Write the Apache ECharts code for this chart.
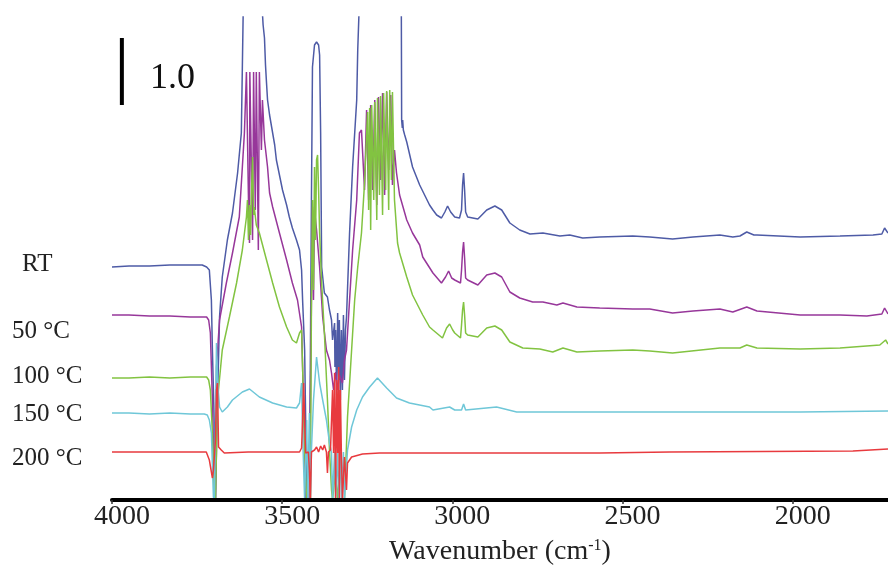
<!DOCTYPE html>
<html>
<head>
<meta charset="utf-8">
<script src="https://cdn.jsdelivr.net/npm/echarts@6/dist/echarts.min.js"></script>
<style>
html,body{margin:0;padding:0;background:#fff;}
#chart{width:888px;height:575px;}
</style>
</head>
<body>
<div id="chart"></div>
<script>
// ---- data: [wavenumber (cm-1), offset absorbance] ----
const seriesNames = ['RT', '50 °C', '100 °C', '150 °C', '200 °C'];
const tickLabels = [4000, 3500, 3000, 2500, 2000];

const rtData = [[4000,2.33],[3950,2.34],[3890,2.34],[3830,2.35],[3770,2.35],[3735,2.35],[3722,2.33],[3714,2.30],[3708,2.0],[3705,1.5],[3699,0.7],[3696,0],[3693,0],[3690,1.0],[3684,1.83],[3676,2.23],[3661,2.6],[3646,2.87],[3631,3.27],[3620,3.67],[3617,4.33],[3614,5.0],[3600,5.3],[3580,5.3],[3562,5.1],[3556,4.75],[3552,4.62],[3549,4.35],[3546,4.17],[3543,4.0],[3537,3.85],[3531,3.73],[3522,3.55],[3517,3.4],[3508,3.25],[3499,3.1],[3487,2.95],[3479,2.83],[3470,2.72],[3458,2.6],[3449,2.5],[3443,2.3],[3440,2.0],[3434,1.5],[3431,0.8],[3428,0],[3420,0],[3414,3.0],[3411,4.33],[3405,4.55],[3399,4.58],[3393,4.55],[3390,4.45],[3387,3.67],[3384,2.33],[3376,2.07],[3367,2.03],[3361,1.9],[3355,1.8],[3352,1.6],[3346,1.77],[3345,1.33],[3343,1.7],[3340,1.05],[3337,1.87],[3334,1.2],[3332,1.8],[3329,1.0],[3326,1.7],[3323,1.1],[3320,1.85],[3317,1.2],[3314,1.7],[3311,1.83],[3302,2.67],[3293,3.33],[3281,4.0],[3278,4.5],[3273,5.0],[3250,5.3],[3200,5.4],[3160,5.3],[3150,5.0],[3149,3.8],[3147,3.72],[3146,3.8],[3144,3.7],[3140,3.65],[3134,3.58],[3117,3.33],[3096,3.15],[3067,2.95],[3057,2.9],[3046,2.85],[3032,2.82],[3022,2.88],[3014,2.94],[3005,2.88],[2993,2.83],[2979,2.82],[2973,2.9],[2970,3.15],[2967,3.27],[2964,3.1],[2961,2.88],[2955,2.83],[2925,2.81],[2899,2.9],[2875,2.94],[2855,2.9],[2831,2.77],[2802,2.7],[2772,2.66],[2734,2.67],[2684,2.64],[2655,2.65],[2617,2.62],[2567,2.63],[2470,2.64],[2420,2.63],[2353,2.61],[2293,2.63],[2214,2.65],[2176,2.63],[2155,2.64],[2135,2.68],[2114,2.65],[2105,2.65],[1978,2.63],[1861,2.64],[1764,2.65],[1738,2.66],[1730,2.72],[1720,2.67]];

const t50Data = [[4000,1.85],[3950,1.85],[3890,1.84],[3830,1.84],[3770,1.83],[3735,1.83],[3722,1.83],[3716,1.80],[3711,1.67],[3705,1.0],[3699,0.1],[3696,0],[3693,1.33],[3684,1.8],[3664,2.17],[3646,2.47],[3626,2.83],[3617,3.33],[3611,3.67],[3605,4.28],[3602,4.28],[3599,3.0],[3596,2.57],[3595,4.28],[3590,4.28],[3587,2.6],[3584,4.28],[3580,4.28],[3579,2.9],[3576,4.28],[3572,4.28],[3570,2.5],[3567,4.28],[3563,4.28],[3561,3.5],[3558,4.0],[3552,3.6],[3543,3.33],[3537,3.07],[3528,2.93],[3508,2.67],[3487,2.4],[3470,2.17],[3455,2.0],[3443,1.73],[3440,1.33],[3434,0.5],[3431,0],[3420,0],[3414,2.0],[3411,2.93],[3408,2.0],[3405,2.9],[3399,2.7],[3390,2.33],[3381,1.83],[3370,1.5],[3361,1.4],[3355,1.27],[3349,1.1],[3343,1.28],[3337,1.1],[3332,1.25],[3323,1.17],[3317,1.4],[3311,1.5],[3302,2.0],[3293,2.5],[3281,3.0],[3273,3.67],[3267,3.7],[3264,3.7],[3258,3.1],[3252,3.9],[3246,3.0],[3240,3.95],[3234,3.1],[3228,4.0],[3222,2.95],[3217,4.03],[3211,3.2],[3205,4.07],[3199,3.05],[3193,4.08],[3187,3.3],[3181,4.05],[3176,3.15],[3170,3.5],[3164,3.27],[3155,3.05],[3134,2.8],[3117,2.67],[3096,2.55],[3087,2.43],[3057,2.27],[3032,2.17],[3020,2.23],[3011,2.29],[3002,2.22],[2993,2.2],[2976,2.17],[2973,2.3],[2970,2.48],[2967,2.58],[2964,2.42],[2961,2.22],[2955,2.2],[2925,2.15],[2899,2.25],[2875,2.27],[2855,2.23],[2831,2.08],[2802,2.02],[2764,1.98],[2734,1.98],[2693,1.95],[2675,1.97],[2634,1.93],[2567,1.92],[2470,1.91],[2420,1.91],[2353,1.87],[2293,1.89],[2214,1.91],[2176,1.88],[2135,1.93],[2105,1.89],[1978,1.85],[1861,1.85],[1782,1.84],[1738,1.86],[1730,1.92],[1720,1.86]];

const t100Data = [[4000,1.22],[3950,1.22],[3890,1.23],[3830,1.22],[3770,1.23],[3735,1.23],[3722,1.23],[3716,1.2],[3711,1.1],[3705,0.67],[3699,0.05],[3696,0],[3690,1.0],[3676,1.5],[3655,1.83],[3634,2.17],[3617,2.5],[3605,2.83],[3602,3.0],[3599,2.6],[3596,2.95],[3593,2.65],[3590,3.1],[3587,3.43],[3584,2.85],[3582,2.93],[3576,2.75],[3567,2.67],[3546,2.4],[3528,2.17],[3508,1.93],[3487,1.73],[3470,1.6],[3458,1.57],[3449,1.67],[3443,1.7],[3440,1.33],[3434,0.5],[3428,0],[3417,0],[3414,2.0],[3411,3.0],[3408,2.1],[3405,3.33],[3402,2.6],[3399,3.4],[3396,3.45],[3393,3.1],[3390,2.67],[3384,2.17],[3376,1.67],[3367,1.0],[3361,0.5],[3355,0.1],[3352,0],[3343,0.3],[3337,0],[3329,0.4],[3323,0],[3317,0],[3308,0.83],[3296,1.5],[3287,2.0],[3278,2.33],[3267,2.67],[3258,3.17],[3249,3.88],[3246,2.9],[3243,3.92],[3240,2.7],[3237,3.95],[3231,3.0],[3228,3.98],[3222,2.8],[3220,4.02],[3214,3.05],[3211,4.04],[3205,2.85],[3202,4.07],[3196,3.1],[3193,4.09],[3187,2.9],[3184,4.1],[3181,4.1],[3179,3.2],[3176,4.08],[3170,3.0],[3161,2.57],[3155,2.47],[3134,2.23],[3117,2.05],[3087,1.85],[3067,1.73],[3057,1.7],[3029,1.62],[3017,1.72],[3008,1.76],[2999,1.7],[2993,1.67],[2976,1.62],[2973,1.75],[2970,1.9],[2967,1.98],[2964,1.85],[2961,1.67],[2955,1.65],[2925,1.63],[2899,1.72],[2875,1.74],[2855,1.7],[2831,1.58],[2793,1.52],[2743,1.51],[2705,1.48],[2675,1.52],[2634,1.48],[2567,1.49],[2470,1.5],[2420,1.49],[2353,1.47],[2214,1.52],[2155,1.52],[2135,1.55],[2105,1.52],[1978,1.51],[1861,1.52],[1744,1.55],[1727,1.6],[1720,1.56]];

const t150Data = [[4000,0.87],[3950,0.87],[3890,0.86],[3830,0.87],[3770,0.86],[3729,0.86],[3720,0.85],[3714,0.8],[3708,0.67],[3702,0.03],[3699,0],[3696,0],[3693,1.57],[3690,1.2],[3684,0.93],[3676,0.88],[3661,0.93],[3646,1.0],[3617,1.08],[3596,1.11],[3567,1.03],[3528,0.97],[3487,0.93],[3458,0.92],[3449,0.97],[3443,1.17],[3440,0.67],[3434,0],[3428,0.8],[3425,0],[3420,0.87],[3417,0],[3414,0.5],[3408,1.0],[3399,1.43],[3390,1.17],[3381,1.0],[3370,0.8],[3361,0.57],[3355,0.47],[3352,0],[3346,0.48],[3343,0],[3337,0.48],[3334,0],[3329,0.48],[3326,0],[3320,0.48],[3317,0],[3308,0.5],[3296,0.73],[3281,0.9],[3264,1.03],[3243,1.13],[3220,1.22],[3193,1.12],[3164,1.02],[3126,0.97],[3067,0.93],[3057,0.9],[3008,0.93],[2993,0.9],[2973,0.9],[2967,0.96],[2961,0.9],[2870,0.93],[2811,0.88],[2664,0.88],[2420,0.88],[2273,0.88],[1978,0.88],[1720,0.89]];

const t200Data = [[4000,0.48],[3950,0.48],[3890,0.48],[3830,0.48],[3770,0.48],[3723,0.48],[3714,0.4],[3705,0.22],[3702,0.3],[3696,0.6],[3693,1.1],[3690,1.17],[3687,0.53],[3679,0.5],[3670,0.47],[3600,0.48],[3500,0.48],[3449,0.48],[3443,0.52],[3440,0.8],[3437,1.17],[3434,0.8],[3431,0.47],[3428,0.48],[3423,0.48],[3420,0.3],[3417,0],[3414,0.48],[3405,0.5],[3399,0.53],[3393,0.48],[3387,0.54],[3381,0.5],[3376,0.55],[3370,0.48],[3367,0.27],[3364,0.48],[3358,0.5],[3352,1.1],[3349,0.47],[3346,1.27],[3343,0],[3340,1.2],[3337,0.47],[3334,1.33],[3332,0],[3329,1.1],[3326,0.45],[3323,0],[3317,0.43],[3311,0.1],[3308,0.37],[3296,0.43],[3264,0.46],[3214,0.47],[3067,0.47],[2567,0.47],[2361,0.48],[1823,0.49],[1720,0.51]];

// scale bar for 1.0 absorbance (plot units)
const scaleBarX = 3971;
const scaleBarY = [3.95, 4.62];
const scaleBarLabel = '1.0';

const colors = ['#4E5BA6', '#97379A', '#82C341', '#6FC7D8', '#E83A3E'];
const allData = [rtData, t50Data, t100Data, t150Data, t200Data];

const chart = echarts.init(document.getElementById('chart'));
const FONT = '"Liberation Serif", "Times New Roman", serif';

const series = allData.map((d, i) => ({
  name: seriesNames[i],
  type: 'line',
  data: d,
  showSymbol: false,
  symbol: 'none',
  lineStyle: { color: colors[i], width: 1.5 },
  z: 2 + i,
  silent: true
}));
series.push({
  name: 'scale',
  type: 'line',
  data: scaleBarY.map(v => [scaleBarX, v]),
  symbol: 'none',
  lineStyle: { color: '#000', width: 4 },
  silent: true,
  z: 10
});

const labelTops = [252, 319, 364, 402, 446];
const labelLefts = [22, 12, 12, 12, 12];
const graphics = seriesNames.map((n, i) => ({
  type: 'text',
  left: labelLefts[i],
  top: labelTops[i],
  style: { text: n, font: '25px ' + FONT, fill: '#222' }
}));
graphics.push({
  type: 'text', left: 150, top: 61,
  style: { text: scaleBarLabel, font: '36px ' + FONT, fill: '#111' }
});

chart.setOption({
  animation: false,
  backgroundColor: '#fff',
  grid: { left: 112, right: 0, top: 17, bottom: 75 },
  xAxis: {
    type: 'value',
    inverse: true,
    min: 1720,
    max: 4000,
    z: 20,
    axisLine: { show: true, onZero: false, lineStyle: { color: '#000', width: 4 } },
    axisTick: { show: true, length: 4, customValues: tickLabels, lineStyle: { color: '#333', width: 1.5 } },
    axisLabel: {
      customValues: tickLabels,
      formatter: v => String(v),
      margin: 3,
      padding: [0, 0, 0, 20],
      fontFamily: FONT,
      fontSize: 28,
      color: '#222'
    },
    splitLine: { show: false },
    name: 'Wavenumber (cm{sup|-1})',
    nameLocation: 'middle',
    nameGap: 38,
    nameTextStyle: {
      fontFamily: FONT,
      fontSize: 28,
      color: '#222',
      rich: {
        sup: { fontFamily: FONT, fontSize: 16, color: '#222', verticalAlign: 'top', lineHeight: 20 }
      }
    }
  },
  yAxis: {
    type: 'value',
    min: 0,
    max: 4.83,
    show: false
  },
  graphic: graphics,
  series: series
});
</script>
</body>
</html>
